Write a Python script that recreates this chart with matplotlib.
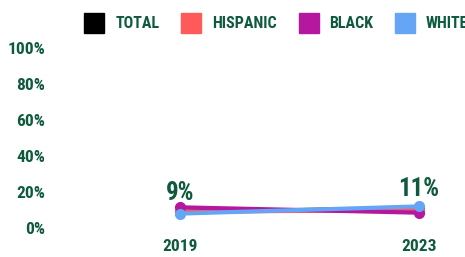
import matplotlib
matplotlib.use('Agg')
import matplotlib.pyplot as plt
from matplotlib.lines import Line2D

years = ['2019', '2023']
total = [9, 11]
hispanic = [9, 10]
black = [11.5, 8.5]
white = [8, 12]
series_names = ['TOTAL', 'HISPANIC', 'BLACK', 'WHITE']
series_colors = ['#000000', '#ff5a5a', '#b5179e', '#64a5f5']
yticks = [0, 20, 40, 60, 80, 100]

green = '#0e5a3c'
plt.rcParams['font.family'] = ['Roboto Condensed', 'DejaVu Sans']

fig = plt.figure(figsize=(4.65, 2.57), dpi=100)
ax = fig.add_axes([55/465, 29/257, 410/465, 180/257])

x = list(range(len(years)))
for vals, c in zip([total, hispanic, black, white], series_colors):
    ax.plot(x, vals, color=c, lw=3, marker='o', ms=7, solid_capstyle='round')

# labels for total
for xi, v in zip(x, total):
    ax.text(xi, v + 4, f'{v}%', ha='center', va='bottom', fontsize=18,
            color=green, fontweight='bold')

ax.set_xlim(-125/239, 1 + 46/239)
ax.set_ylim(0, 100)
ax.set_yticks(yticks)
ax.set_yticklabels([f'{t}%' for t in yticks], fontweight='bold')
ax.set_xticks(x)
ax.set_xticklabels(years, fontweight='bold')
ax.tick_params(length=0, colors=green, labelsize=12.5)
ax.tick_params(axis='y', pad=7)
ax.tick_params(axis='x', pad=8)
for s in ax.spines.values():
    s.set_visible(False)

handles = [Line2D([], [], marker='s', ls='', ms=15, color=c) for c in series_colors]
leg = fig.legend(handles, series_names, loc='center left', bbox_to_anchor=(84/465, 1 - 24/257),
                 ncol=4, frameon=False, handlelength=1.3, handletextpad=0.65,
                 columnspacing=1.35, borderaxespad=0, borderpad=0,
                 prop={'size': 11.5, 'weight': 'bold'})
for t in leg.get_texts():
    t.set_color(green)

fig.savefig('out.png', dpi=100)
